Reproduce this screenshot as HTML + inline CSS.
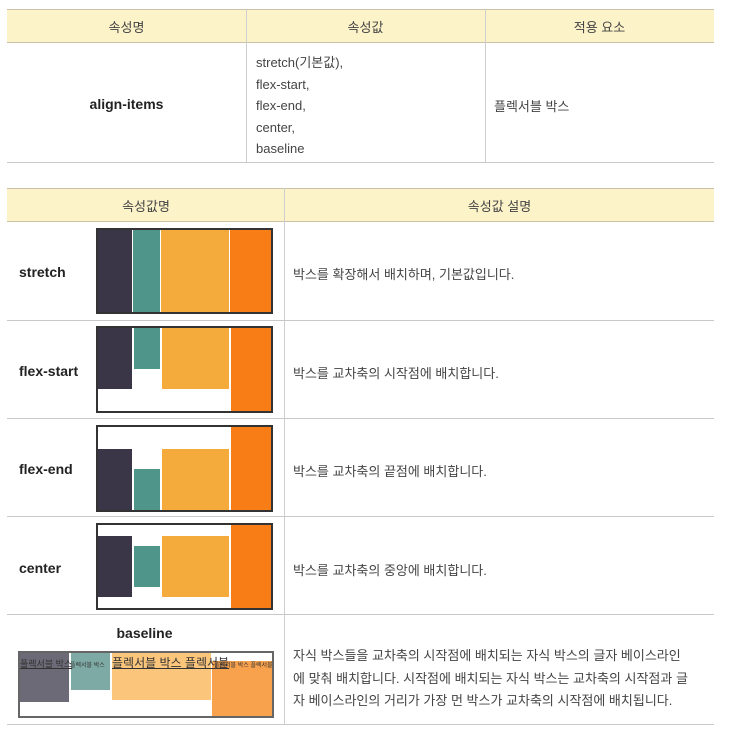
<!DOCTYPE html>
<html><head><meta charset="utf-8"><style>
body{margin:0;width:732px;height:734px;background:#fff;position:relative;overflow:hidden;font-family:"Liberation Sans","Noto Sans CJK KR",sans-serif;color:#333}
.a{position:absolute}
.hd{background:#fdf3c9;border-top:1px solid #c9c2a8;border-bottom:1px solid #c9c2a8}
.hl{position:absolute;height:1px;background:#c8c8c8}
.vl{position:absolute;width:1px;background:#cfcfcf}
.t{position:absolute;font-size:13px;color:#444;white-space:nowrap}
.c{text-align:center}
.b{font-weight:bold;color:#222;font-size:14px}
.box{position:absolute;border:2px solid #333;box-sizing:border-box;background:#fff}
.bar{position:absolute}
</style></head><body>
<div class="a hd" style="left:7px;top:9px;width:707px;height:32px"></div>
<div class="t c" style="left:7px;width:239px;top:17px">속성명</div>
<div class="t c" style="left:246px;width:239px;top:17px">속성값</div>
<div class="t c" style="left:485px;width:229px;top:17px">적용 요소</div>
<div class="vl" style="left:246px;top:9px;height:153px"></div>
<div class="vl" style="left:485px;top:9px;height:153px"></div>
<div class="hl" style="left:7px;top:162px;width:707px"></div>
<div class="t c b" style="left:7px;width:239px;top:96px">align-items</div>
<div class="t" style="left:256px;top:52px;line-height:21.5px">stretch(기본값),<br>flex-start,<br>flex-end,<br>center,<br>baseline</div>
<div class="t" style="left:494px;top:96px">플렉서블 박스</div>

<div class="a hd" style="left:7px;top:188px;width:707px;height:32px"></div>
<div class="t c" style="left:7px;width:278px;top:196px">속성값명</div>
<div class="t c" style="left:285px;width:429px;top:196px">속성값 설명</div>
<div class="vl" style="left:284px;top:188px;height:536px"></div>
<div class="hl" style="left:7px;top:320px;width:707px"></div>
<div class="hl" style="left:7px;top:418px;width:707px"></div>
<div class="hl" style="left:7px;top:516px;width:707px"></div>
<div class="hl" style="left:7px;top:614px;width:707px"></div>
<div class="hl" style="left:7px;top:724px;width:707px"></div>

<div class="t b" style="left:19px;top:264px">stretch</div>
<div class="t b" style="left:19px;top:363px">flex-start</div>
<div class="t b" style="left:19px;top:461px">flex-end</div>
<div class="t b" style="left:19px;top:560px">center</div>
<div class="t c b" style="left:6px;width:277px;top:625px">baseline</div>

<div class="t" style="left:293px;top:264px">박스를 확장해서 배치하며, 기본값입니다.</div>
<div class="t" style="left:293px;top:363px">박스를 교차축의 시작점에 배치합니다.</div>
<div class="t" style="left:293px;top:461px">박스를 교차축의 끝점에 배치합니다.</div>
<div class="t" style="left:293px;top:560px">박스를 교차축의 중앙에 배치합니다.</div>
<div class="t" style="left:293px;top:645px;line-height:22.5px">자식 박스들을 교차축의 시작점에 배치되는 자식 박스의 글자 베이스라인<br>에 맞춰 배치합니다. 시작점에 배치되는 자식 박스는 교차축의 시작점과 글<br>자 베이스라인의 거리가 가장 먼 박스가 교차축의 시작점에 배치됩니다.</div>

<div class="box" style="left:96px;top:228px;width:177px;height:86px"></div>
<div class="bar" style="left:98px;top:230px;width:34px;height:82px;background:#3a3547"></div>
<div class="bar" style="left:133px;top:230px;width:27px;height:82px;background:#4f958a"></div>
<div class="bar" style="left:161px;top:230px;width:68px;height:82px;background:#f5ab3b"></div>
<div class="bar" style="left:230px;top:230px;width:41px;height:82px;background:#f97d16"></div>
<div class="box" style="left:96px;top:326px;width:177px;height:87px"></div>
<div class="bar" style="left:98px;top:328px;width:34px;height:61px;background:#3a3547"></div>
<div class="bar" style="left:134px;top:328px;width:26px;height:41px;background:#4f958a"></div>
<div class="bar" style="left:162px;top:328px;width:67px;height:61px;background:#f5ab3b"></div>
<div class="bar" style="left:231px;top:328px;width:40px;height:83px;background:#f97d16"></div>
<div class="box" style="left:96px;top:425px;width:177px;height:87px"></div>
<div class="bar" style="left:98px;top:449px;width:34px;height:61px;background:#3a3547"></div>
<div class="bar" style="left:134px;top:469px;width:26px;height:41px;background:#4f958a"></div>
<div class="bar" style="left:162px;top:449px;width:67px;height:61px;background:#f5ab3b"></div>
<div class="bar" style="left:231px;top:427px;width:40px;height:83px;background:#f97d16"></div>
<div class="box" style="left:96px;top:523px;width:177px;height:87px"></div>
<div class="bar" style="left:98px;top:536px;width:34px;height:61px;background:#3a3547"></div>
<div class="bar" style="left:134px;top:546px;width:26px;height:41px;background:#4f958a"></div>
<div class="bar" style="left:162px;top:536px;width:67px;height:61px;background:#f5ab3b"></div>
<div class="bar" style="left:231px;top:525px;width:40px;height:83px;background:#f97d16"></div>
<div class="box" style="left:18px;top:651px;width:256px;height:67px;border-color:#666"></div>
<div class="bar" style="left:20px;top:653px;width:49px;height:49px;background:#6c6a76"></div>
<div class="bar" style="left:71px;top:653px;width:39px;height:37px;background:#7eaaa6"></div>
<div class="bar" style="left:112px;top:653px;width:99px;height:47px;background:#fbc67c"></div>
<div class="bar" style="left:212px;top:661px;width:60px;height:55px;background:#f9a24e"></div>
<div class="t" style="left:20px;top:657px;font-size:9px;color:#333;text-decoration:underline">플렉서블 박스</div>
<div class="t" style="left:70px;top:660px;font-size:6px;color:#333">플렉서블 박스</div>
<div class="t" style="left:112px;top:654px;font-size:12px;color:#333;text-decoration:underline">플렉서블 박스 플렉서블</div>
<div class="t" style="left:214px;top:660px;font-size:6px;color:#333">플렉서블 박스 플렉서블</div>
</body></html>
